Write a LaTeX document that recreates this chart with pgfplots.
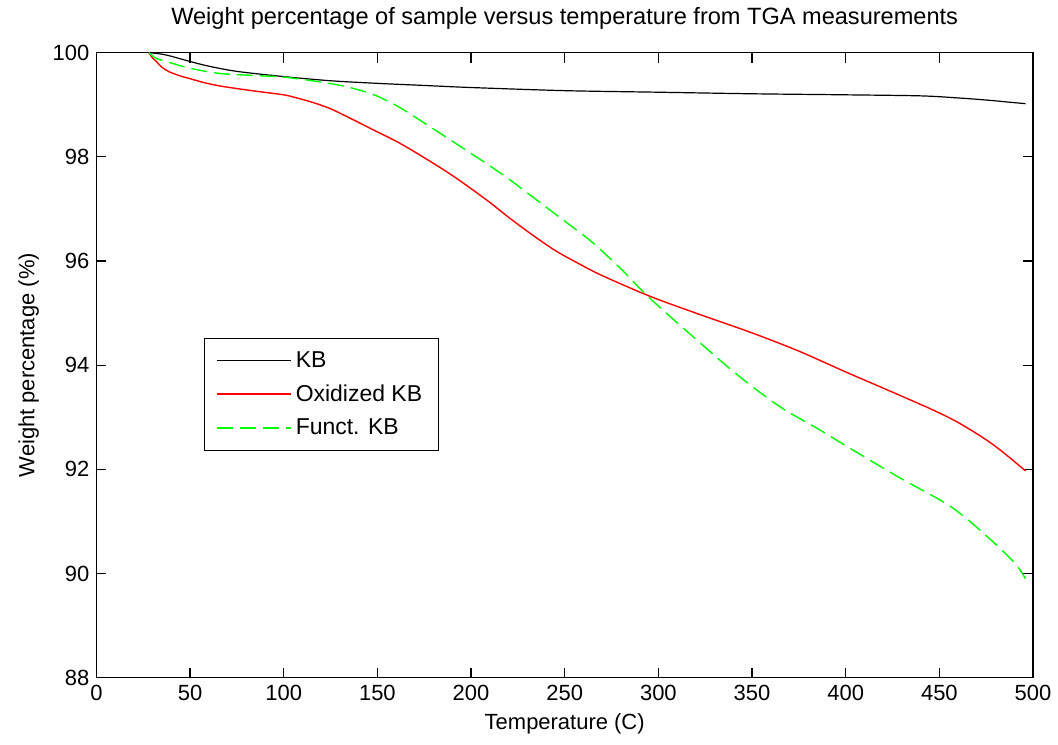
\documentclass[border=0pt]{standalone}
\usepackage{pgfplots}
\pgfplotsset{compat=1.18}
\usepackage{fontspec}
\setmainfont{Liberation Sans}

\begin{document}
\begin{tikzpicture}
\begin{axis}[
  scale only axis,
  width=469pt, height=313pt,
  xmin=0, xmax=500, ymin=88, ymax=100,
  xtick={0,50,...,500},
  ytick={88,90,...,100},
  tick align=inside,
  major tick length=5pt,
  tick style={black, line width=0.6pt},
  axis line style={line width=0.6pt},
  /pgf/number format/assume math mode=true,
  tick label style={font=\fontsize{11}{13}\selectfont},
  label style={font=\fontsize{11}{13}\selectfont},
  title style={font=\fontsize{11.8}{13}\selectfont, yshift=2pt},
  title={Weight percentage of sample versus temperature from TGA measurements},
  xlabel={Temperature (C)},
  ylabel={Weight percentage (\%)},
  legend style={at={(0.1146,0.544)}, anchor=north west, font=\fontsize{11.5}{13}\selectfont,
    draw=black, line width=0.6pt, inner xsep=6pt, inner ysep=4.5pt, row sep=3.2pt},
  legend cell align=left,
  legend image code/.code={\draw[#1] (0pt,0pt) -- (37pt,0pt);},
]
% legend entries
\addlegendimage{draw=black, line width=0.7pt}
\addlegendentry{KB}
\addlegendimage{draw=red, line width=0.8pt}
\addlegendentry{Oxidized KB}
\addlegendimage{draw=green, line width=0.8pt, dash pattern=on 8pt off 3.5pt}
\addlegendentry{Funct. KB}
% KB
\addplot[black, line width=0.6pt, smooth, forget plot] coordinates {
  (28,100) (35,99.97) (40,99.93) (50,99.83) (60,99.74) (75,99.64) (100,99.54)
  (125,99.46) (150,99.41) (175,99.37) (200,99.33) (250,99.27) (300,99.24)
  (350,99.21) (400,99.19) (440,99.17) (460,99.13) (475,99.09) (487,99.05) (496,99.02)
};
% Oxidized KB
\addplot[red, line width=0.7pt, smooth, forget plot] coordinates {
  (28,100) (30,99.9) (32,99.83) (35,99.72) (39,99.63) (45,99.55) (50,99.5) (58,99.42)
  (67.6,99.35) (85,99.26) (100,99.19) (107,99.13) (115,99.05) (124.5,98.93)
  (135,98.75) (146,98.55) (163.5,98.23) (188,97.69) (208,97.18) (220,96.84)
  (232,96.52) (245,96.2) (258,95.94) (270,95.72) (295,95.33) (320,95.0) (350,94.62)
  (375,94.27) (400,93.87) (420,93.56) (446,93.15) (460,92.9)
  (474.5,92.58) (485,92.3) (496,91.97)
};
% Funct. KB
\addplot[green, line width=0.7pt, smooth, dash pattern=on 8pt off 3.5pt, forget plot] coordinates {
  (28,100) (32,99.89) (40,99.8) (50,99.7) (65.8,99.6) (85,99.56) (100,99.53)
  (119,99.44) (133,99.35) (146,99.22) (155,99.08) (165,98.88) (190,98.3)
  (216.8,97.66) (241.7,96.99) (252.4,96.7) (265,96.35) (280,95.85) (295,95.3)
  (320,94.5) (343,93.79) (365,93.2) (385.6,92.77) (401.6,92.42) (428.3,91.85)
  (456.7,91.27) (478,90.63) (490.5,90.19) (496,89.9)
};
\end{axis}
\path[use as bounding box] ([xshift=-48.25pt,yshift=-33.5pt]current axis.south west)
  rectangle ([xshift=11.75pt,yshift=26.35pt]current axis.north east);
\end{tikzpicture}
\end{document}
